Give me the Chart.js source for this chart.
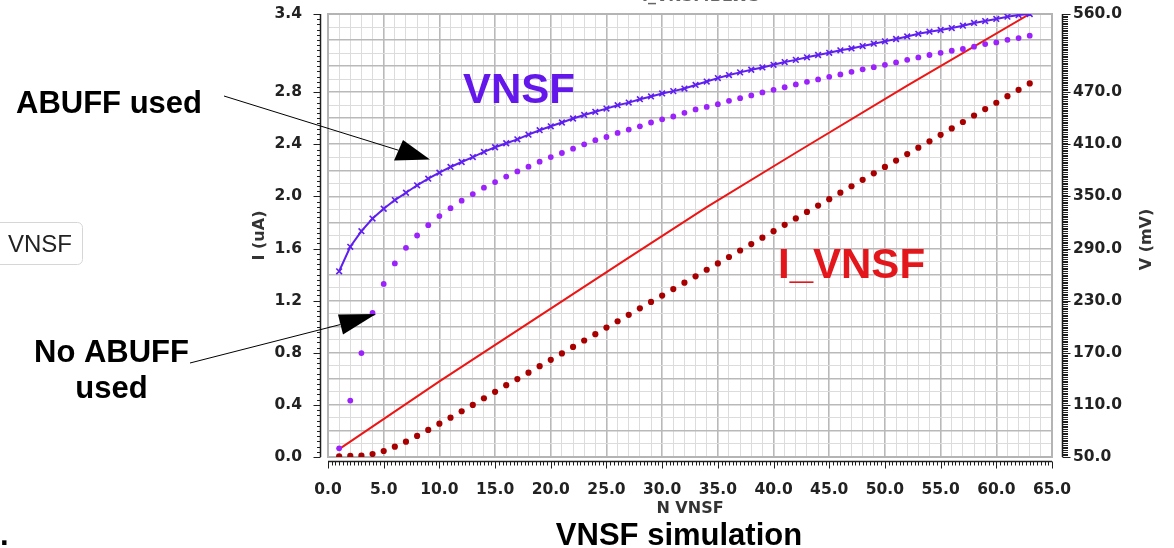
<!DOCTYPE html>
<html><head><meta charset="utf-8">
<script src="https://cdn.jsdelivr.net/npm/chart.js@4.4.1/dist/chart.umd.min.js"></script>
<style>html,body{margin:0;padding:0;background:#fff;overflow:hidden}#c{position:absolute;left:0;top:0}</style>
</head><body>
<canvas id="c" width="1174" height="548"></canvas>
<script>
// ---- data ----
const nVNSF = [1,2,3,4,5,6,7,8,9,10,11,12,13,14,15,16,17,18,19,20,21,22,23,24,25,26,27,28,29,30,31,32,33,34,35,36,37,38,39,40,41,42,43,44,45,46,47,48,49,50,51,52,53,54,55,56,57,58,59,60,61,62,63];
// VNSF with ABUFF (mV, right axis)
const vnsfAbuffMV = [263.8,292.0,310.0,324.5,335.8,345.8,354.2,362.8,370.4,377.3,383.9,389.6,395.3,401.2,406.6,411.2,415.7,421.1,426.2,430.7,435.1,439.7,443.8,447.4,451.1,455.0,458.0,461.9,465.1,468.5,471.2,474.2,478.3,482.2,486.2,489.7,492.8,495.8,498.5,501.5,504.7,507.2,510.1,512.8,515.3,518.2,520.4,523.1,525.8,528.5,531.2,534.2,537.2,539.6,541.6,543.8,546.5,549.7,551.9,554.3,556.9,558.8,560.0];
// VNSF without ABUFF (mV, right axis)
const vnsfNoAbuffMV = [60.0,115.0,169.7,215.8,249.2,272.8,290.8,305.0,316.9,327.4,336.5,345.1,352.7,360.1,366.5,372.8,378.8,384.2,390.0,395.3,400.0,405.0,410.0,414.7,418.4,423.1,427.0,430.7,435.1,438.8,442.0,446.2,450.2,453.0,456.2,460.0,463.1,466.3,469.7,472.7,475.7,478.9,481.9,484.7,487.7,490.4,493.4,496.3,498.8,501.5,504.2,507.2,510.0,512.8,515.3,517.7,519.7,522.4,525.4,527.3,530.3,532.3,535.0];
// I_VNSF (uA, left axis)
const iVnsfUA = [0.005,0.008,0.010,0.023,0.046,0.079,0.118,0.162,0.208,0.256,0.302,0.351,0.400,0.451,0.500,0.551,0.598,0.647,0.697,0.746,0.795,0.845,0.894,0.943,0.993,1.042,1.091,1.141,1.190,1.239,1.289,1.338,1.387,1.437,1.486,1.535,1.585,1.634,1.683,1.733,1.782,1.831,1.881,1.930,1.979,2.029,2.078,2.127,2.177,2.226,2.275,2.325,2.374,2.423,2.473,2.522,2.571,2.621,2.670,2.719,2.769,2.818,2.867];
// red reference line (uA, left axis)
const refLineN = [1,10,27,34,42,52,63];
const refLineUA = [0.06,0.58,1.53,1.918,2.335,2.85,3.40];
// tick labels
const xTickLabels = ['0.0','5.0','10.0','15.0','20.0','25.0','30.0','35.0','40.0','45.0','50.0','55.0','60.0','65.0'];
const yLeftTickLabels = ['0.0','0.4','0.8','1.2','1.6','2.0','2.4','2.8','3.4'];
const yRightTickLabels = ['50.0','110.0','170.0','230.0','290.0','350.0','410.0','470.0','560.0'];

// ---- styles ----
const TICK_FONT = {family:'DejaVu Sans', size:15.5, weight:'bold'};
const TICK_COLOR = '#222';
const TITLE_FONT = {family: 'DejaVu Sans', size: 16, weight: 'bold'};
const GRID_MAJOR = '#b9b9b9', GRID_MINOR = '#dcdcdc';
const C_ABUFF = '#5f1ff0', C_NOABUFF = '#9b22fa', C_IVNSF = '#a80000', C_REF = '#ee1515';

const xy = (xs, ys) => xs.map((v, i) => ({x: v, y: ys[i]}));

const extras = {
  id: 'extras',
  beforeDatasetsDraw(chart) {
    const {ctx, chartArea: a} = chart;
    ctx.save();
    ctx.strokeStyle = '#b4b4b4'; ctx.lineWidth = 2;
    ctx.strokeRect(a.left, a.top, a.right - a.left, a.bottom - a.top);
    ctx.restore();
  },
  afterDraw(chart) {
    const {ctx, chartArea: a, scales} = chart;
    const x = scales.x, y = scales.y, yR = scales.yR;
    const seg = (x1, y1, x2, y2) => { ctx.beginPath(); ctx.moveTo(x1, y1); ctx.lineTo(x2, y2); ctx.stroke(); };
    ctx.save();
    ctx.strokeStyle = '#1e1e1e';
    // left axis (detached)
    const lx = a.left - 7.5;
    ctx.lineWidth = 1.5;
    seg(lx, y.getPixelForValue(0), lx, y.getPixelForValue(3.4));
    ctx.lineWidth = 1;
    for (let k = 0; k <= 85; k++) {
      const py = Math.round(y.getPixelForValue(k * 0.04)) + 0.5;
      const major = (k % 10 === 0 && k <= 70) || k === 85;
      seg(lx, py, lx - (major ? 7 : 3.5), py);
    }
    // bottom axis (detached)
    const by = a.bottom + 4.5;
    ctx.lineWidth = 1.5;
    seg(x.getPixelForValue(0), by, x.getPixelForValue(65), by);
    ctx.lineWidth = 1;
    for (let k = 0; k <= 195; k++) {
      const px = Math.round(x.getPixelForValue(k / 3)) + 0.5;
      seg(px, by, px, by + (k % 15 === 0 ? 7 : 4));
    }
    // right axis (detached)
    const rx = a.right + 10.5;
    ctx.lineWidth = 1.5;
    seg(rx, yR.getPixelForValue(50), rx, yR.getPixelForValue(560));
    ctx.lineWidth = 1;
    for (let v = 50; v <= 560; v += 2) {
      const py = Math.round(yR.getPixelForValue(v)) + 0.5;
      const major = yRightTickLabels.includes(v.toFixed(1));
      seg(rx, py, rx + (major ? 8 : 5.5), py);
    }
    // right axis title (reads bottom to top)
    ctx.save();
    ctx.translate(1147, (a.top + a.bottom) / 2 + 4);
    ctx.rotate(-Math.PI / 2);
    ctx.font = 'bold 16px "DejaVu Sans"'; ctx.fillStyle = '#333';
    ctx.textAlign = 'center'; ctx.textBaseline = 'middle';
    ctx.fillText('V (mV)', 0, 0);
    ctx.restore();

    // cropped title at the top
    ctx.font = 'bold 16px "DejaVu Sans"'; ctx.fillStyle = '#666';
    ctx.textAlign = 'center'; ctx.textBaseline = 'alphabetic';
    ctx.fillText('I_VNSF:BLWS', 701, 1);

    // in-plot labels
    ctx.textAlign = 'left';
    ctx.font = 'bold 42px "Liberation Sans"';
    ctx.fillStyle = '#6417ea';
    ctx.fillText('VNSF', 463, 103);
    ctx.fillStyle = '#e3161b';
    ctx.fillText('I_VNSF', 778, 278);

    // annotations
    ctx.fillStyle = '#000';
    ctx.font = 'bold 31px "Liberation Sans"';
    ctx.fillText('ABUFF used', 16, 113);
    ctx.textAlign = 'center';
    ctx.fillText('No ABUFF', 111.5, 362);
    ctx.fillText('used', 111.5, 398);
    ctx.fillText('VNSF simulation', 679, 545);
    ctx.textAlign = 'left';
    ctx.fillText('.', 0, 545);

    // arrows
    ctx.strokeStyle = '#000'; ctx.lineWidth = 1;
    const arrow = (x1, y1, tip, b1, b2) => {
      seg(x1, y1, (b1[0] + b2[0]) / 2, (b1[1] + b2[1]) / 2);
      ctx.beginPath(); ctx.moveTo(tip[0], tip[1]); ctx.lineTo(b1[0], b1[1]); ctx.lineTo(b2[0], b2[1]); ctx.closePath(); ctx.fill();
    };
    arrow(224, 96, [430, 159.5], [394, 160.5], [403, 140]);
    arrow(190, 363, [376, 314], [338, 314.5], [343, 334.5]);

    // "VNSF" button at the left edge
    ctx.strokeStyle = '#d6d6d6'; ctx.lineWidth = 1;
    ctx.beginPath(); ctx.roundRect(-6.5, 222.5, 89, 42, 5); ctx.stroke();
    ctx.fillStyle = '#222'; ctx.font = '24px "Liberation Sans"';
    ctx.fillText('VNSF', 8, 252);
    ctx.restore();
  }
};

new Chart(document.getElementById('c'), {
  type: 'scatter',
  data: {
    datasets: [
      {label: 'VNSF (ABUFF used)', data: xy(nVNSF, vnsfAbuffMV), yAxisID: 'yR', showLine: true,
       borderColor: C_ABUFF, backgroundColor: C_ABUFF, borderWidth: 2,
       pointStyle: 'crossRot', pointRadius: 4, pointBorderWidth: 1.6, pointBorderColor: C_ABUFF},
      {label: 'VNSF (no ABUFF)', data: xy(nVNSF, vnsfNoAbuffMV), yAxisID: 'yR', showLine: false,
       pointStyle: 'circle', pointRadius: 2.9, pointBorderWidth: 0, backgroundColor: C_NOABUFF, borderColor: C_NOABUFF},
      {label: 'I_VNSF', data: xy(nVNSF, iVnsfUA), yAxisID: 'y', showLine: false,
       pointStyle: 'circle', pointRadius: 3.1, pointBorderWidth: 0, backgroundColor: C_IVNSF, borderColor: C_IVNSF},
      {label: 'reference', data: xy(refLineN, refLineUA), yAxisID: 'y', showLine: true,
       borderColor: C_REF, borderWidth: 2, pointRadius: 0, tension: 0}
    ]
  },
  options: {
    responsive: false, animation: false, devicePixelRatio: 1,
    layout: {autoPadding: false, padding: {top: 14, left: 0, right: 0, bottom: 0}},
    plugins: {legend: {display: false}, tooltip: {enabled: false}},
    scales: {
      x: {
        type: 'linear', position: 'bottom', min: 0, max: 65,
        afterFit(s) { s.height = 91; },
        border: {display: false},
        grid: {drawTicks: true, tickLength: 24, tickColor: 'rgba(0,0,0,0)',
               color: c => (c.tick && c.tick.value % 5 === 0) ? GRID_MAJOR : GRID_MINOR,
               lineWidth: c => (c.tick && c.tick.value % 5 === 0) ? 1.6 : 1},
        ticks: {stepSize: 1, autoSkip: false, maxRotation: 0, padding: 0, font: TICK_FONT, color: TICK_COLOR,
                callback: v => { const s = Number(v).toFixed(1); return xTickLabels.includes(s) ? s : ''; }},
        title: {display: true, text: 'N VNSF', font: TITLE_FONT, color: '#333',
                padding: {top: 0, bottom: 30}}
      },
      y: {
        type: 'linear', position: 'left', min: 0, max: 3.4,
        afterFit(s) { s.width = 328; },
        border: {display: false},
        grid: {drawTicks: true, tickLength: 26, tickColor: 'rgba(0,0,0,0)',
               color: c => (c.tick && Math.round(c.tick.value * 10) % 2 === 0) ? GRID_MAJOR : GRID_MINOR,
               lineWidth: c => (c.tick && Math.round(c.tick.value * 10) % 2 === 0) ? 1.6 : 1},
        ticks: {stepSize: 0.1, autoSkip: false, padding: 0, font: TICK_FONT, color: TICK_COLOR,
                callback: v => { const s = Number(v).toFixed(1); return yLeftTickLabels.includes(s) ? s : ''; }},
        title: {display: true, text: 'I (uA)', font: TITLE_FONT, color: '#333',
                padding: {top: 250, bottom: 0}}
      },
      yR: {
        type: 'linear', position: 'right', min: 50, max: 560,
        afterFit(s) { s.width = 122; },
        border: {display: false},
        grid: {drawOnChartArea: false, drawTicks: true, tickLength: 21, tickColor: 'rgba(0,0,0,0)'},
        ticks: {stepSize: 30, autoSkip: false, padding: 0, font: TICK_FONT, color: TICK_COLOR,
                callback: v => { const s = Number(v).toFixed(1); return yRightTickLabels.includes(s) ? s : ''; }}
      }
    }
  },
  plugins: [extras]
});
</script>
</body></html>
